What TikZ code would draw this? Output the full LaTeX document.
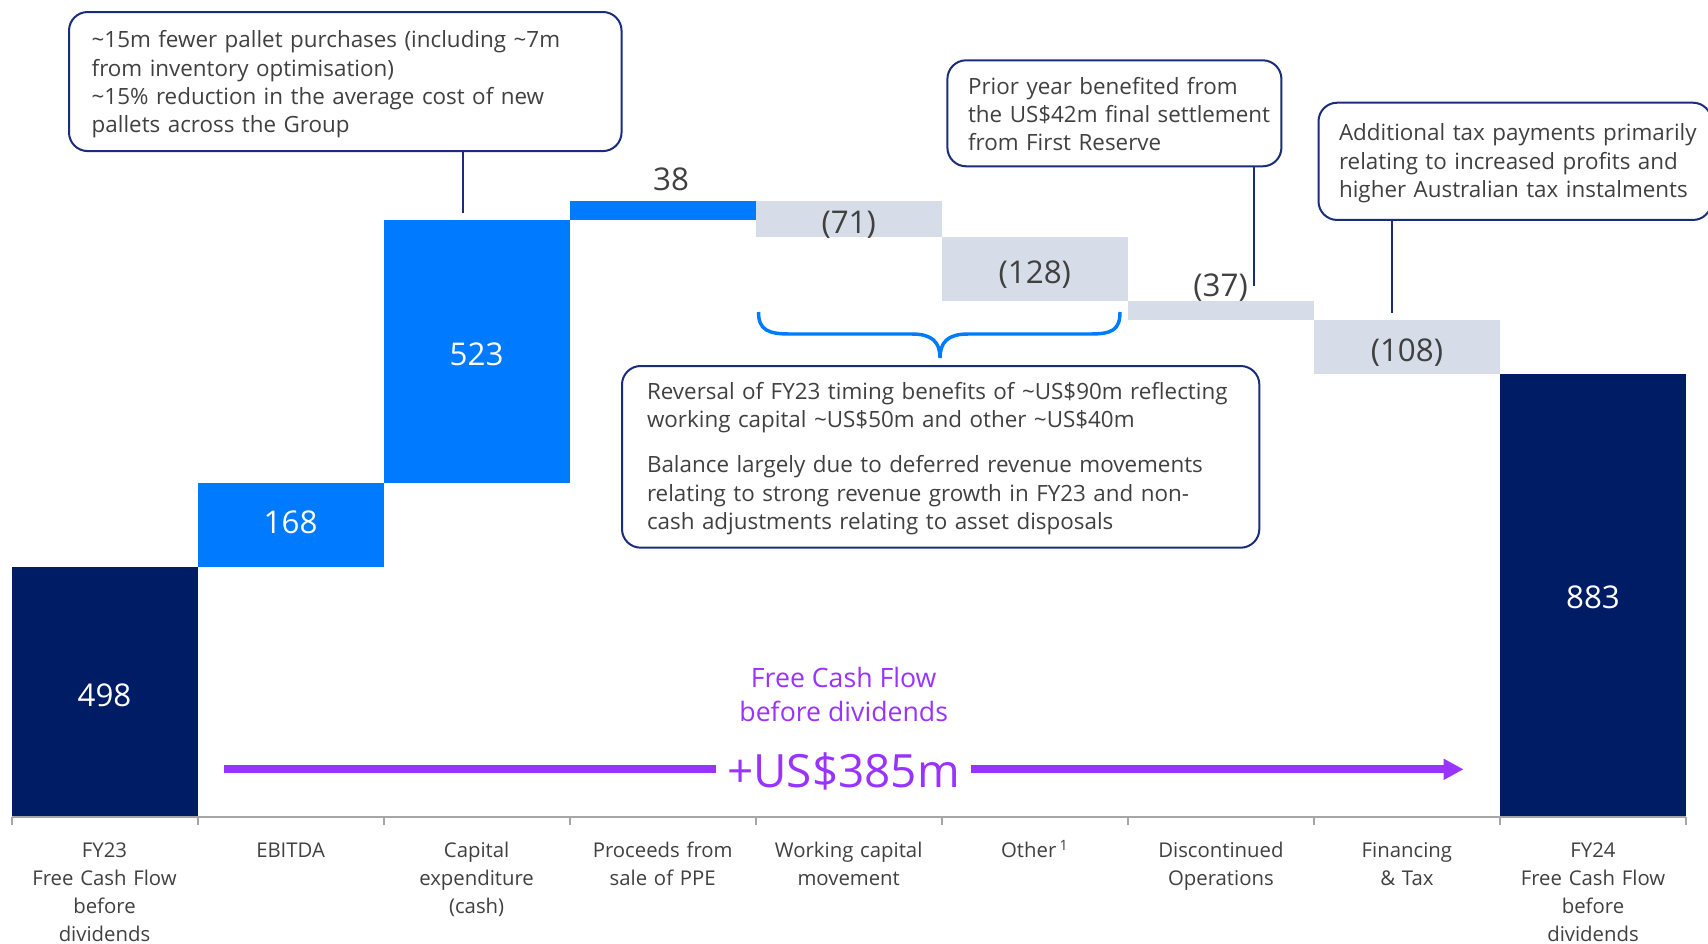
\documentclass[tikz,border=0pt]{standalone}
\usepackage{fontspec}
\setmainfont{Open Sans}
\usetikzlibrary{arrows.meta}

\definecolor{fcfnavy}{RGB}{0,28,100}
\definecolor{fcfblue}{RGB}{0,122,255}
\definecolor{fcfgrey}{RGB}{214,220,232}
\definecolor{fcfpurple}{RGB}{153,51,255}
\definecolor{fcftext}{RGB}{64,64,64}
\definecolor{fcfaxis}{RGB}{166,166,166}
\definecolor{fcfline}{RGB}{25,45,120}

\tikzset{
  value/.style={anchor=base,font=\fontsize{23.5}{28}\selectfont,text=fcftext,inner sep=0pt},
  invalue/.style={value,text=white},
  cat/.style={anchor=base,align=center,inner sep=0pt,text width=127.5pt,
    font=\fontsize{15.25}{21}\selectfont,text=fcftext},
  note/.style={draw=fcfline,line width=1.5pt,rounded corners=14pt,anchor=north west,
    align=left,font=\fontsize{16.8}{21.2}\selectfont,text=fcftext,inner ysep=0pt},
  callout/.style={draw=fcfline,line width=1.5pt},
  fcfarrow/.style={draw=fcfpurple,line width=6pt}
}

\begin{document}
\begin{tikzpicture}[x=0.75pt,y=-0.75pt]
	\useasboundingbox (0,0) rectangle (1708,943);

	%bars
	\fill[fcfnavy] (11.5,817) rectangle (197.6,567); %FY23
	\fill[fcfblue] (197.6,567) rectangle (383.6,482.7); %EBITDA
	\fill[fcfblue] (383.6,482.7) rectangle (569.7,220.1); %capex
	\fill[fcfblue] (569.7,220.1) rectangle (755.7,201); %PPE
	\fill[fcfgrey] (755.7,201) rectangle (941.8,236.7); %working capital
	\fill[fcfgrey] (941.8,236.7) rectangle (1127.8,300.9); %other
	\fill[fcfgrey] (1127.8,300.9) rectangle (1313.9,319.5); %discontinued
	\fill[fcfgrey] (1313.9,319.5) rectangle (1499.9,373.7); %financing
	\fill[fcfnavy] (1499.9,373.7) rectangle (1686,817); %FY24

	%axis
	\draw[fcfaxis,line width=1.5pt] (11.5,817) -- (1686,817);
	\foreach \x in {11.5,197.6,383.6,569.7,755.7,941.8,1127.8,1313.9,1499.9,1686}
	  \draw[fcfaxis,line width=1.5pt] (\x,817) -- (\x,825);

	%values
	\node[invalue] (v498) at (104.5,706.7) {498};
	\node[invalue] (v168) at (290.6,533.3) {168};
	\node[invalue] (v523) at (476.6,365) {523};
	\node[value] (v38) at (671,190) {38};
	\node[value] (v71) at (848.7,233.5) {(71)};
	\node[value] (v128) at (1034.8,283.3) {(128)};
	\node[value] (v37) at (1220.6,296.7) {(37)};
	\node[value] (v108) at (1406.9,361) {(108)};
	\node[invalue] (v883) at (1593,608.3) {883};

	%categories
	\node[cat] (c1) at (104.5,857) {FY23\\Free Cash Flow\\before\\dividends};
	\node[cat] (c2) at (290.6,857) {EBITDA};
	\node[cat] (c3) at (476.6,857) {Capital\\expenditure\\(cash)};
	\node[cat] (c4) at (662.7,857) {Proceeds from\\sale of PPE};
	\node[cat] (c5) at (848.7,857) {Working capital\\movement};
	\node[cat] (c6) at (1034.8,857) {Other\,\textsuperscript{1}};
	\node[cat] (c7) at (1220.9,857) {Discontinued\\Operations};
	\node[cat] (c8) at (1406.9,857) {Financing\\\& Tax};
	\node[cat] (c9) at (1593,857) {FY24\\Free Cash Flow\\before\\dividends};

	%notes
	\node[note,inner xsep=17pt,text width=380.4pt,text height=26.8pt,text depth=77.5pt] (capexnote) at (68,11)
	  {\textasciitilde15m fewer pallet purchases (including \textasciitilde7m\\
	   from inventory optimisation)\\
	   \textasciitilde15\% reduction in the average cost of new\\
	   pallets across the Group};
	\node[note,inner xsep=15.5pt,text width=219.5pt,text height=25.5pt,text depth=54pt] (discnote) at (946.4,59.3)
	  {Prior year benefited from\\
	   \mbox{the US\$42m final settlement}\\
	   from First Reserve};
	\node[note,inner xsep=15.4pt,text width=264pt,text height=28.7pt,text depth=59.25pt] (taxnote) at (1317.5,101.7)
	  {\mbox{Additional tax payments primarily}\\
	   relating to increased profits and\\
	   higher Australian tax instalments};
	\node[note,inner xsep=18.75pt,text width=440.5pt,text height=24.75pt,text depth=111.5pt] (revnote) at (621,365)
	  {Reversal of FY23 timing benefits of \textasciitilde US\$90m reflecting\\
	   working capital \textasciitilde US\$50m and other \textasciitilde US\$40m\\[13pt]
	   Balance largely due to deferred revenue movements\\
	   relating to strong revenue growth in FY23 and non-\\
	   cash adjustments relating to asset disposals};

	%callout lines
	\coordinate (capexpt) at (463,213);
	\coordinate (discpt) at (1253.6,286);
	\coordinate (taxpt) at (1392,312.7);
	\draw[callout] (capexnote.south -| capexpt) -- (capexpt);
	\draw[callout] (discnote.south -| discpt) -- (discpt);
	\draw[callout] (taxnote.south -| taxpt) -- (taxpt);

	%brace
	\coordinate (bracetip) at (940,358);
	\draw[fcfblue,line width=2.6pt] (758.5,312) .. controls (758.5,330) and (768,334) .. (790,334)
	  -- (912,334) .. controls (932,334) and (940,342) .. (bracetip)
	  .. controls (940,342) and (948,334) .. (968,334) -- (1090,334)
	  .. controls (1112,334) and (1120,330) .. (1120,312);

	%free cash flow arrow
	\node[anchor=base,align=center,text=fcfpurple,font=\fontsize{20}{25.5}\selectfont] (fcfnote) at (843.7,721.7)
	  {Free Cash Flow\\before dividends};
	\node[text=fcfpurple,font=\fontsize{34.4}{40}\selectfont,inner xsep=8.6pt] (fcftotal) at (843.5,771) {+US\$385m};
	\coordinate (fcfstart) at (223.8,769.3);
	\coordinate (fcfend) at (1463.5,769.3);
	\draw[fcfarrow] (fcfstart) -- (fcfstart -| fcftotal.west);
	\draw[fcfarrow,-{Triangle[length=15pt,width=15pt]}] (fcfstart -| fcftotal.east) -- (fcfend);
\end{tikzpicture}
\end{document}
